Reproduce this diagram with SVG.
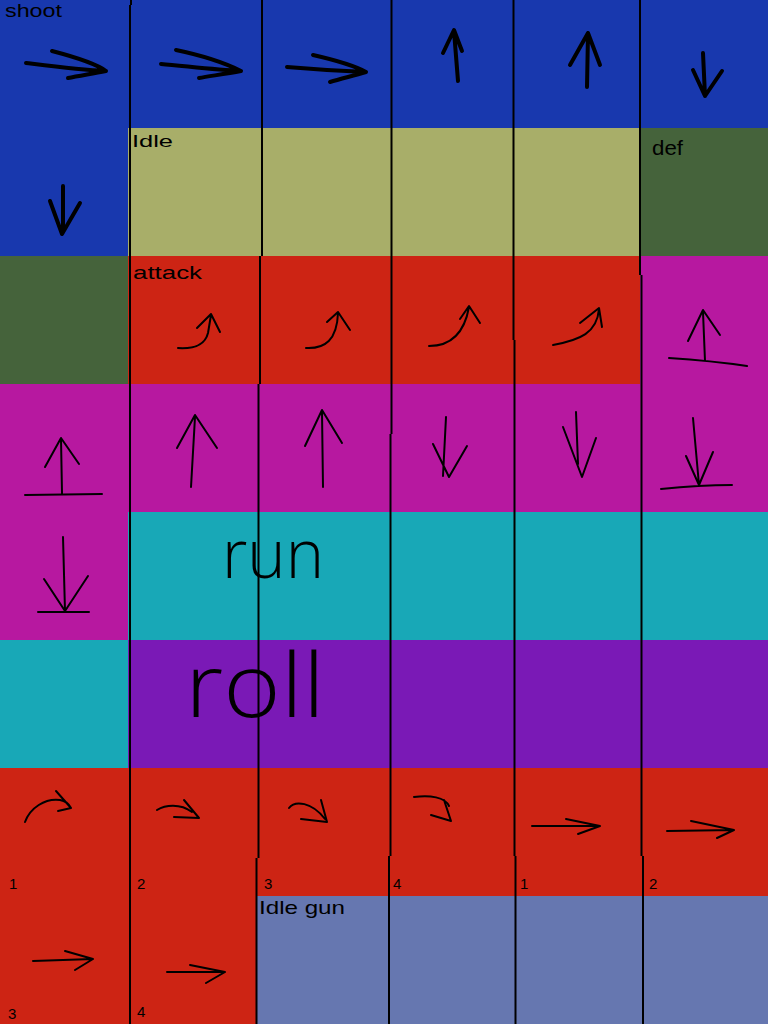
<svg xmlns="http://www.w3.org/2000/svg" width="768" height="1024" viewBox="0 0 768 1024">
<style>
.blue{fill:#1838ae}.khaki{fill:#a8ae69}.green{fill:#45633b}.red{fill:#cd2414}.mag{fill:#b718a0}.teal{fill:#18a8b7}.purple{fill:#7a19b6}.slate{fill:#6677b0}
.grid{fill:none;stroke:#000;stroke-width:2}
.thick{fill:none;stroke:#000;stroke-width:4;stroke-linecap:round;stroke-linejoin:round}
.thin{fill:none;stroke:#000;stroke-width:2;stroke-linecap:round;stroke-linejoin:round}
.lbl{font-family:"Liberation Sans",Arial,sans-serif;fill:#000}
.big{font-family:"Open Sans","Lato","Liberation Sans",sans-serif;font-weight:300;fill:#000}
</style>
<g id="cells">
<rect class="blue" x="0" y="0" width="768" height="128"/>
<rect class="blue" x="0" y="128" width="128" height="128"/>
<rect class="khaki" x="128" y="128" width="512" height="128"/>
<rect class="green" x="640" y="128" width="128" height="128"/>
<rect class="green" x="0" y="256" width="128" height="128"/>
<rect class="red" x="128" y="256" width="512" height="128"/>
<rect class="mag" x="640" y="256" width="128" height="128"/>
<rect class="mag" x="0" y="384" width="768" height="128"/>
<rect class="mag" x="0" y="512" width="128" height="128"/>
<rect class="teal" x="128" y="512" width="640" height="128"/>
<rect class="teal" x="0" y="640" width="128" height="128"/>
<rect class="purple" x="128" y="640" width="640" height="128"/>
<rect class="red" x="0" y="768" width="768" height="128"/>
<rect class="red" x="0" y="896" width="256" height="128"/>
<rect class="slate" x="256" y="896" width="512" height="128"/>
</g>
<g id="gridlines">
<path class="grid" d="M131,0 L131,5 M130,5 L130,1024"/>
<path class="grid" d="M262,0 L262,256 M260,256 L260,384 M258.5,384 L258.5,858 M256.5,858 L256.5,1024"/>
<path class="grid" d="M391.5,0 L391.5,434 M390.5,434 L390.5,856 M389,856 L389,1024"/>
<path class="grid" d="M513.5,0 L513.5,340 M514.5,340 L514.5,856 M515.5,856 L515.5,1024"/>
<path class="grid" d="M640,0 L640,275 M641.5,275 L641.5,856 M643,856 L643,1024"/>
</g>
<g id="shoot-arrows">
<path class="thick" d="M26,63 C50,66 80,70 106,71 M52,51 C75,57 95,63 106,71 C90,74 78,76 68,78"/>
<path class="thick" d="M161,64 C185,66 215,70 241,71 M176,50 C200,55 225,63 241,71 C225,74 210,76 199,78"/>
<path class="thick" d="M287,67 C310,69 340,71 366,72 M313,55 C335,60 355,66 366,72 C352,76 340,79 330,82"/>
<path class="thick" d="M458,81 L454,31 M443,53 L454,30 L462,51"/>
<path class="thick" d="M587,87 L588,33 M570,65 L588,33 L600,65"/>
<path class="thick" d="M703,53 L705,96 M693,70 L705,96 L722,71"/>
<path class="thick" d="M63,186 L63,232 M50,201 L62,234 L80,203"/>
</g>
<g id="attack-arrows">
<path class="thin" d="M178,348 C195,349 205,345 208,333 L211,315 M197,328 L211,314 L220,332"/>
<path class="thin" d="M306,348 C325,349 337,340 338,313 M327,322 L338,312 L350,330"/>
<path class="thin" d="M429,346 C450,346 464,335 469,307 M460,319 L469,306 L480,323"/>
<path class="thin" d="M553,345 C580,340 597,333 599,309 M580,323 L599,308 L602,327"/>
</g>
<g id="def-arrows">
<path class="thin" d="M705,361 L703,312 M688,341 L703,310 L720,335 M669,358 C700,360 720,362 747,366"/>
<path class="thin" d="M693,418 L699,485 M686,456 L699,485 L713,452 M661,489 C690,486 710,485 732,485"/>
</g>
<g id="jump-arrows">
<path class="thin" d="M62,493 L61,439 M45,467 L61,438 L79,464 M25,495 L102,494"/>
<path class="thin" d="M191,487 L195,417 M177,448 L195,415 L217,448"/>
<path class="thin" d="M323,487 L322,412 M305,446 L322,410 L342,443"/>
<path class="thin" d="M446,417 L443,476 M433,444 L449,477 L467,446"/>
<path class="thin" d="M576,412 L578,464 M563,427 L582,477 L596,438"/>
<path class="thin" d="M63,537 L65,611 M44,579 L65,611 L88,576 M38,612 L89,612"/>
</g>
<g id="gun-arrows">
<path class="thin" d="M25,822 C30,808 45,798 60,800 C66,801 69,804 71,808 M56,791 L71,808 L58,811"/>
<path class="thin" d="M157,810 C165,805 180,803 192,812 M184,800 L199,818 L174,817"/>
<path class="thin" d="M289,808 C295,800 312,802 325,819 M321,800 L327,822 L301,819"/>
<path class="thin" d="M414,797 C430,795 445,797 449,806 M444,800 L451,821 L431,815"/>
<path class="thin" d="M532,826 L600,826 M566,819 L600,826 L578,834"/>
<path class="thin" d="M667,831 L734,830 M691,821 L734,830 L717,838"/>
<path class="thin" d="M33,961 L93,959 M65,951 L93,959 L75,970"/>
<path class="thin" d="M167,972 L225,972 M190,965 L225,972 L206,983"/>
</g>
<g id="labels">
<text class="lbl" x="5" y="17" font-size="18" textLength="57" lengthAdjust="spacingAndGlyphs">shoot</text>
<text class="lbl" x="132" y="147" font-size="17" textLength="41" lengthAdjust="spacingAndGlyphs">Idle</text>
<text class="lbl" x="652" y="155" font-size="20" textLength="31" lengthAdjust="spacingAndGlyphs">def</text>
<text class="lbl" x="133" y="279" font-size="19" textLength="69" lengthAdjust="spacingAndGlyphs">attack</text>
<text class="big" x="222" y="578" font-size="68" textLength="102" lengthAdjust="spacingAndGlyphs">run</text>
<text class="big" x="185" y="717" font-size="88" textLength="140" lengthAdjust="spacingAndGlyphs">roll</text>
<text class="lbl" x="259" y="914" font-size="19" textLength="86" lengthAdjust="spacingAndGlyphs">Idle gun</text>
<text class="lbl" x="9" y="889" font-size="15">1</text>
<text class="lbl" x="137" y="889" font-size="15">2</text>
<text class="lbl" x="264" y="889" font-size="15">3</text>
<text class="lbl" x="393" y="889" font-size="15">4</text>
<text class="lbl" x="520" y="889" font-size="15">1</text>
<text class="lbl" x="649" y="889" font-size="15">2</text>
<text class="lbl" x="8" y="1019" font-size="15">3</text>
<text class="lbl" x="137" y="1017" font-size="15">4</text>
</g>
</svg>
